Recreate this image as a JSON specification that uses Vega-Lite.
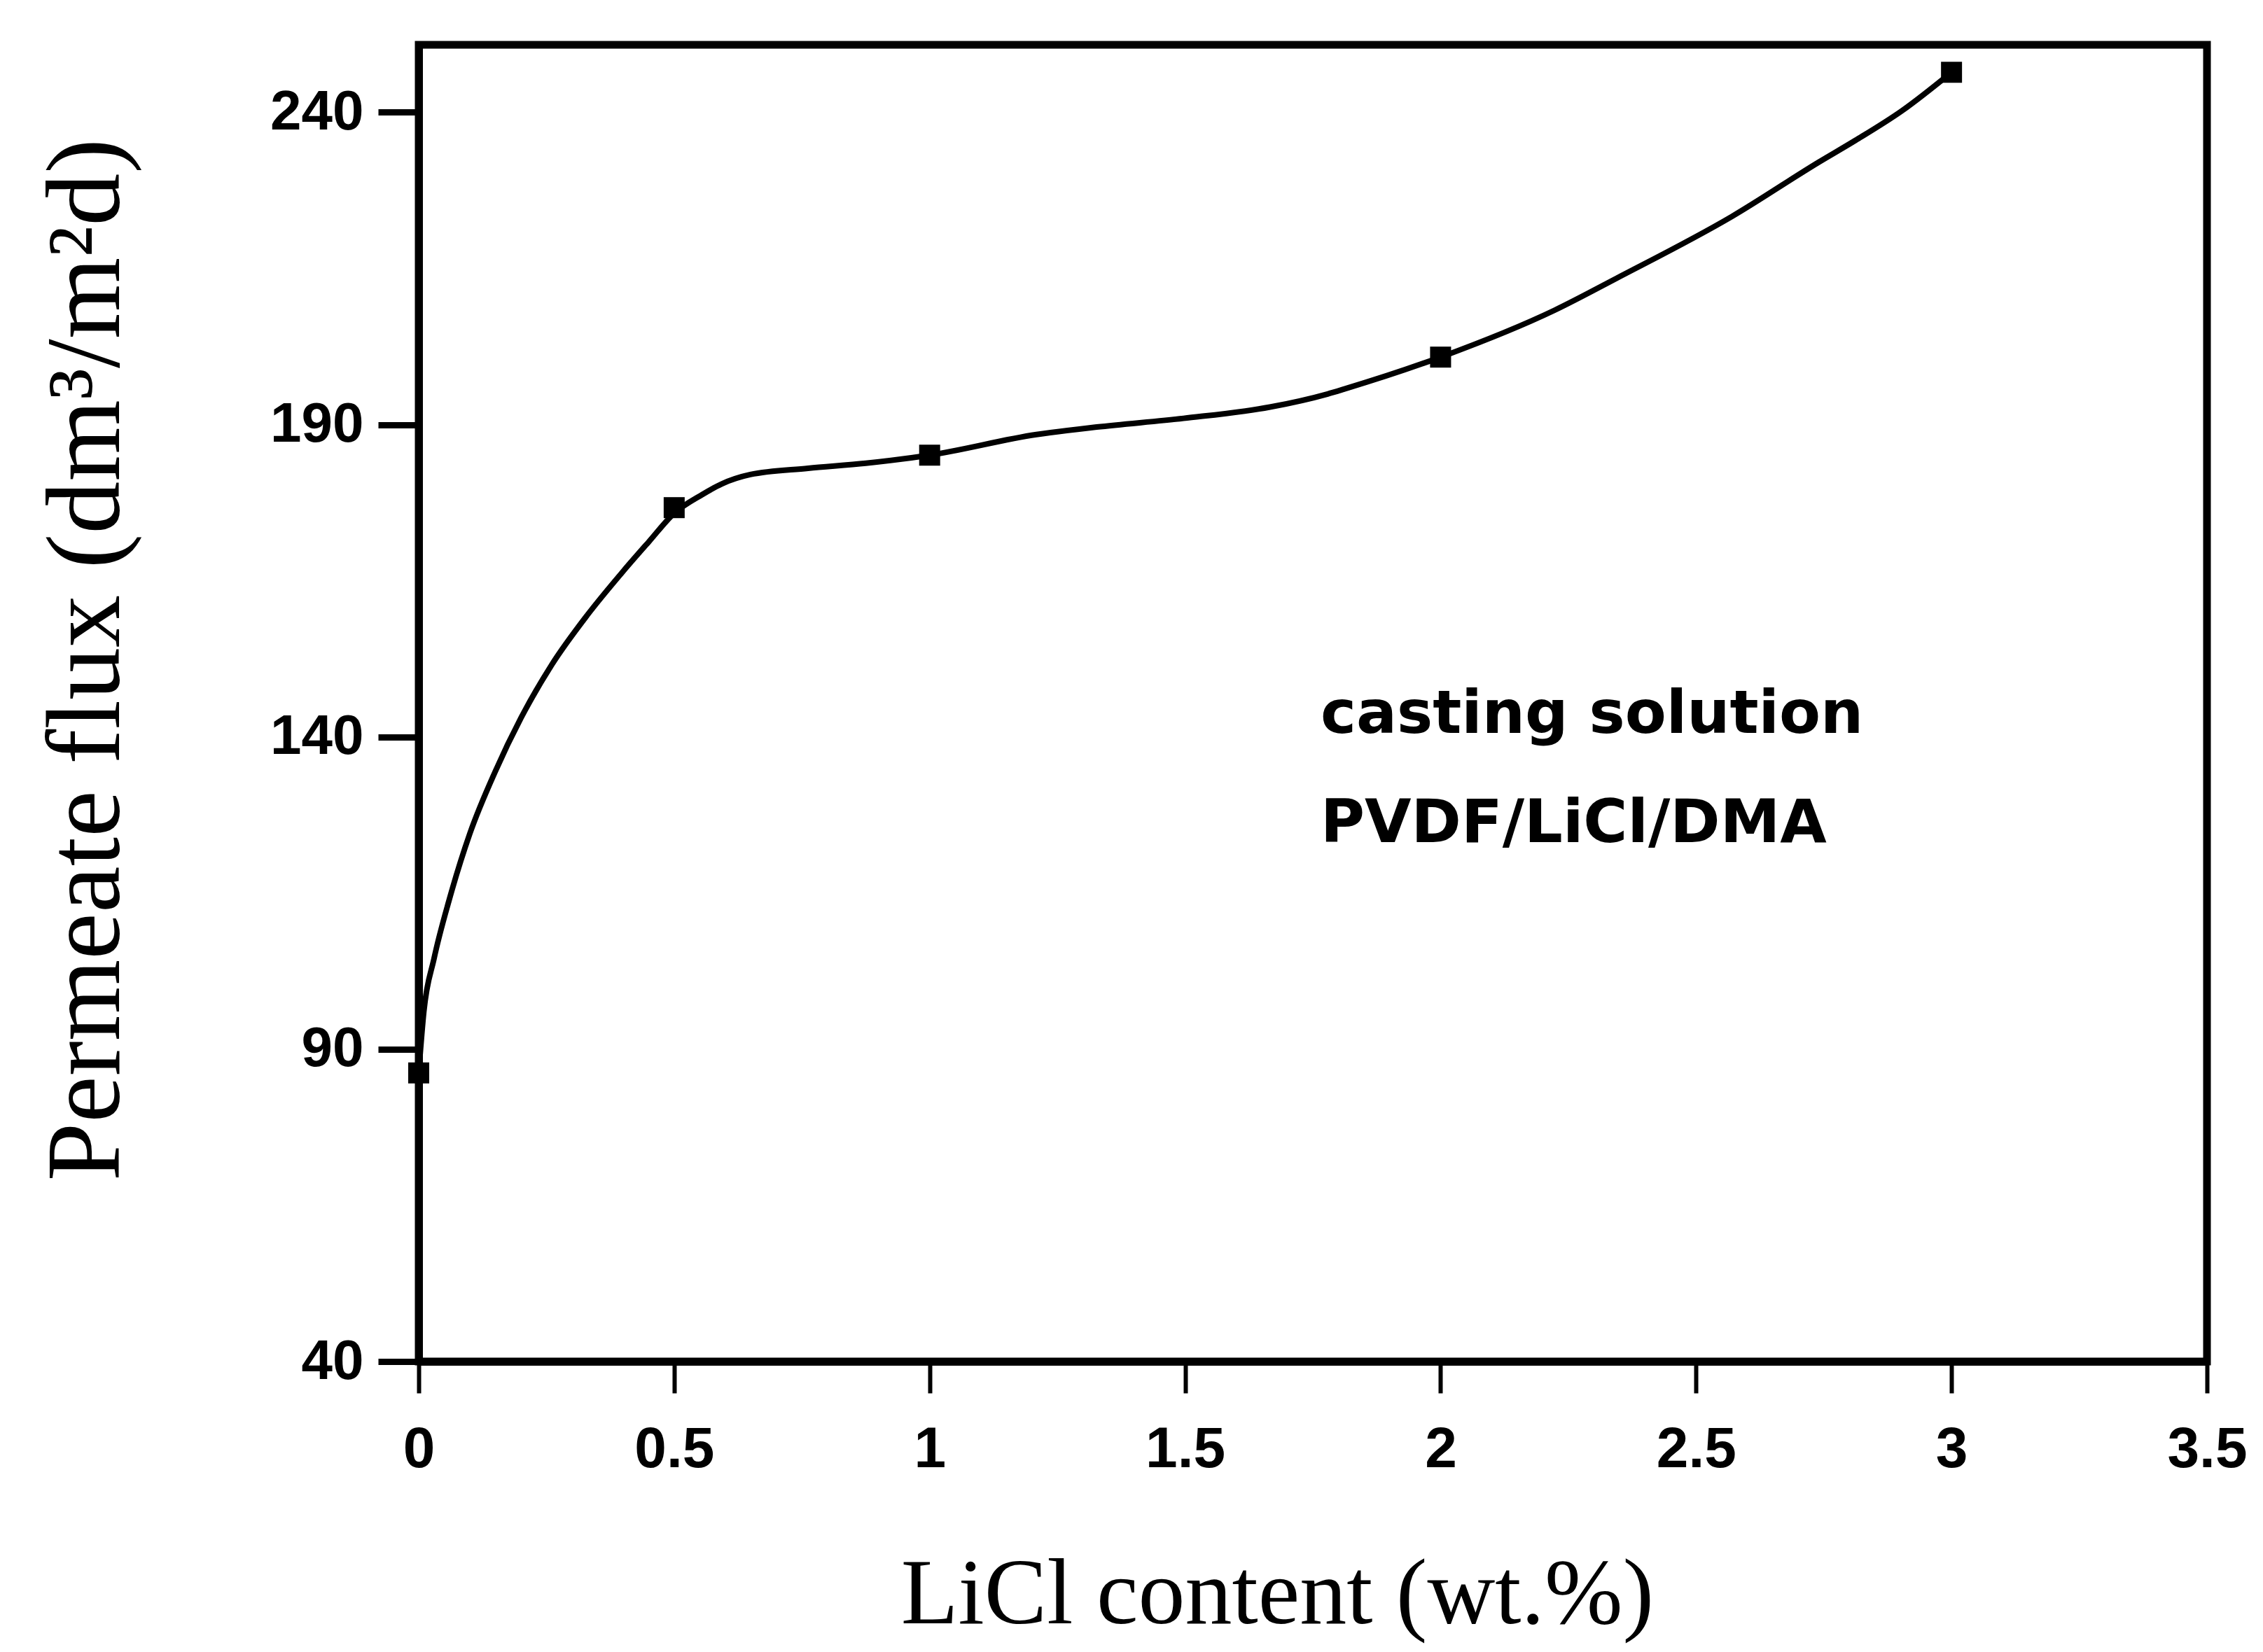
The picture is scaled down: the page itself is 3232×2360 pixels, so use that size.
{
  "$schema": "https://vega.github.io/schema/vega-lite/v6.json",
  "autosize": {"type": "none"},
  "padding": {"left": 598, "top": 64, "right": 80, "bottom": 415},
  "width": 2554,
  "height": 1881,
  "background": "white",
  "config": {
    "view": {"stroke": "black", "strokeWidth": 11},
    "axis": {"grid": false, "domainColor": "black", "domainWidth": 11, "tickColor": "black", "labelColor": "black", "titleColor": "black"}
  },
  "datasets": {
    "curve": [
      {"LiCl": 0.0, "flux": 86.2},
      {"LiCl": 0.01, "flux": 96.0},
      {"LiCl": 0.03, "flux": 104.5},
      {"LiCl": 0.06, "flux": 114.0},
      {"LiCl": 0.1, "flux": 124.5},
      {"LiCl": 0.15, "flux": 134.5},
      {"LiCl": 0.2, "flux": 143.0},
      {"LiCl": 0.26, "flux": 151.5},
      {"LiCl": 0.33, "flux": 159.5},
      {"LiCl": 0.4, "flux": 166.5},
      {"LiCl": 0.45, "flux": 171.2},
      {"LiCl": 0.5, "flux": 175.8},
      {"LiCl": 0.555, "flux": 178.8},
      {"LiCl": 0.593, "flux": 180.5},
      {"LiCl": 0.649, "flux": 182.0},
      {"LiCl": 0.762, "flux": 183.0},
      {"LiCl": 0.875, "flux": 183.8},
      {"LiCl": 1.0, "flux": 185.1},
      {"LiCl": 1.209, "flux": 188.4},
      {"LiCl": 1.327, "flux": 189.6},
      {"LiCl": 1.497, "flux": 191.0},
      {"LiCl": 1.666, "flux": 192.8},
      {"LiCl": 1.779, "flux": 194.9},
      {"LiCl": 1.812, "flux": 195.7},
      {"LiCl": 2.0, "flux": 200.8},
      {"LiCl": 2.223, "flux": 208.3},
      {"LiCl": 2.344, "flux": 213.4},
      {"LiCl": 2.57, "flux": 223.3},
      {"LiCl": 2.74, "flux": 232.0},
      {"LiCl": 2.812, "flux": 235.5},
      {"LiCl": 2.904, "flux": 240.3},
      {"LiCl": 3.0, "flux": 246.4}
    ],
    "points": [
      {"LiCl": 0.0, "flux": 86.2},
      {"LiCl": 0.5, "flux": 176.7},
      {"LiCl": 1.0, "flux": 185.1},
      {"LiCl": 2.0, "flux": 200.8},
      {"LiCl": 3.0, "flux": 246.4}
    ],
    "notes": [
      {"LiCl": 1.765, "flux": 140.6, "label": "casting solution"},
      {"LiCl": 1.765, "flux": 123.2, "label": "PVDF/LiCl/DMA"}
    ]
  },
  "encoding": {
    "x": {
      "field": "LiCl", "type": "quantitative",
      "scale": {"domain": [0, 3.5], "nice": false, "zero": false},
      "axis": {
        "values": [0, 0.5, 1, 1.5, 2, 2.5, 3, 3.5],
        "format": "~g",
        "labelFlush": false,
        "tickSize": 45, "tickWidth": 6,
        "labelFont": "Liberation Sans", "labelFontWeight": "bold", "labelFontSize": 82, "labelPadding": 40,
        "title": "LiCl content (wt.%)",
        "titleFont": "Liberation Serif", "titleFontWeight": "normal", "titleFontSize": 134,
        "titleX": 1226, "titleY": 333, "titleAlign": "center", "titleBaseline": "middle"
      }
    },
    "y": {
      "field": "flux", "type": "quantitative",
      "scale": {"domain": [40, 250.8], "nice": false, "zero": false},
      "axis": {
        "values": [40, 90, 140, 190, 240],
        "labelFlush": false,
        "tickSize": 58, "tickWidth": 9,
        "labelFont": "Liberation Sans", "labelFontWeight": "bold", "labelFontSize": 80, "labelPadding": 21,
        "title": "Permeate flux (dm³/m²d)",
        "titleFont": "Liberation Serif", "titleFontWeight": "normal", "titleFontSize": 150,
        "titleX": -474, "titleY": 878, "titleAngle": 270, "titleAlign": "center", "titleBaseline": "middle"
      }
    }
  },
  "layer": [
    {
      "data": {"name": "curve"},
      "mark": {"type": "line", "interpolate": "monotone", "color": "black", "strokeWidth": 8}
    },
    {
      "data": {"name": "points"},
      "mark": {"type": "point", "shape": "square", "filled": true, "color": "black", "opacity": 1, "size": 900}
    },
    {
      "data": {"name": "notes"},
      "mark": {"type": "text", "align": "left", "baseline": "alphabetic", "font": "DejaVu Sans", "fontWeight": "bold", "fontSize": 86, "color": "black"},
      "encoding": {"text": {"field": "label", "type": "nominal"}}
    }
  ]
}
